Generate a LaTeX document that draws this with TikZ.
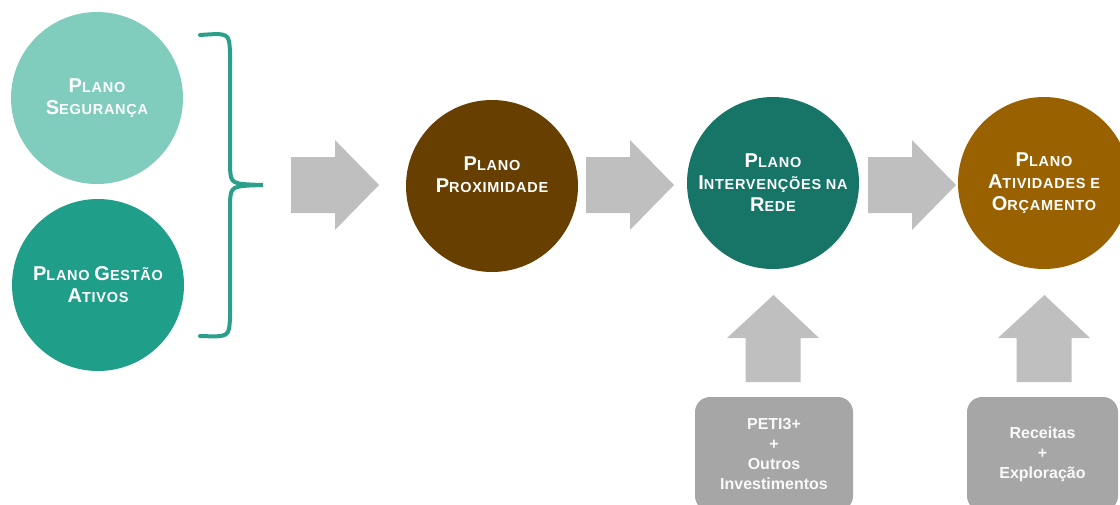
\documentclass[tikz,border=0pt]{standalone}
\usepackage{fontspec}
\setmainfont{Liberation Sans}
\newfontfamily\spacedfont[LetterSpace=5]{Liberation Sans}
\usepackage{tikz}
\definecolor{segcol}{HTML}{80CDBE}
\definecolor{gestcol}{HTML}{1F9E89}
\definecolor{bracecol}{HTML}{2A9F8A}
\definecolor{proxcol}{HTML}{673F00}
\definecolor{intercol}{HTML}{167566}
\definecolor{ativcol}{HTML}{9A6100}
\definecolor{arrowgray}{HTML}{BFBFBF}
\definecolor{boxgray}{HTML}{A6A6A6}
\newcommand\capword[2]{{\fontsize{20}{22}\selectfont #1}#2}

\begin{document}
\begin{tikzpicture}[x=1pt,y=-1pt,
    plan/.style={circle,inner sep=0pt,minimum size=172pt,text=white,align=center,
      font=\spacedfont\bfseries\fontsize{14.5}{22}\selectfont},
    flowarrow/.style={fill=arrowgray},
    inbox/.style={fill=boxgray,rounded corners=15pt,minimum width=#1,minimum height=114pt,
      text=white!95!gray,align=center,font=\bfseries\fontsize{16}{20}\selectfont}]
    \useasboundingbox (0,0) rectangle (1120,504);
    \clip (0,0) rectangle (1120,504);
    % os dois planos de partida
    \node[plan,fill=segcol] (seg) at (97,98) {\capword{P}{LANO}\\\capword{S}{EGURANÇA}};
    \node[plan,fill=gestcol] (gest) at (98,285) {\capword{P}{LANO} \capword{G}{ESTÃO}\\\capword{A}{TIVOS}};
    \draw[bracecol,line width=4pt,line cap=round] (200,35) .. controls (229,33) .. (230,52) -- (230,168)
        .. controls (231,184) .. (263,185) .. controls (231,186) .. (230,202) -- (230,318)
        .. controls (229,337) .. (200,336);  % chaveta
    % planos em cadeia
    \node[plan,fill=proxcol] (prox) at (492,186) {\capword{P}{LANO}\\\capword{P}{ROXIMIDADE}\\~};
    \node[plan,fill=intercol] (inter) at (773,183) {\capword{P}{LANO}\\\capword{I}{NTERVENÇÕES} \capword{}{NA}\\\capword{R}{EDE}};
    \node[plan,fill=ativcol] (ativ) at (1044,183) {\capword{P}{LANO}\\\capword{A}{TIVIDADES} \capword{}{E}\\\capword{O}{RÇAMENTO}};
    \foreach \x in {291,586,868}
        \fill[flowarrow] (\x,157) -- ++(44,0) -- ++(0,-17) -- ++(44,45) -- ++(-44,45) -- ++(0,-17) -- ++(-44,0) -- cycle;
    % entradas por baixo
    \foreach \x in {773.5,1044.5}
        \fill[flowarrow] (\x,295) -- ++(45.5,43) -- ++(-18.5,0) -- ++(0,44) -- ++(-55,0) -- ++(0,-44) -- ++(-18.5,0) -- cycle;
    \node[inbox=158pt] (peti) at (774,454) {PETI3+\\+\\Outros\\Investimentos};
    \node[inbox=151pt] (recei) at (1042.5,454) {Receitas\\+\\Exploração};
\end{tikzpicture}
\end{document}
